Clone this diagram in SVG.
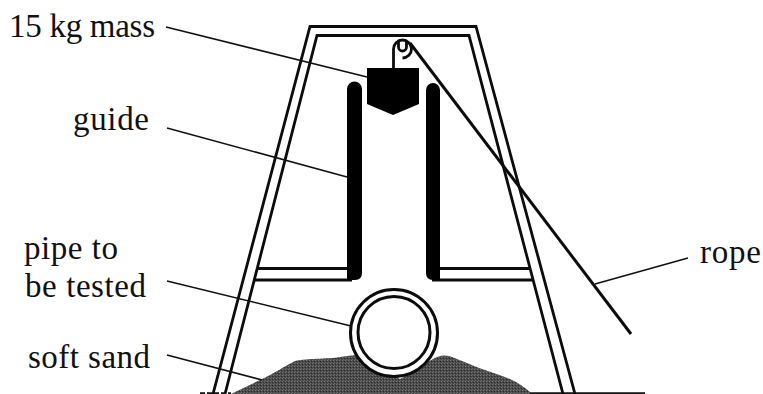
<svg xmlns="http://www.w3.org/2000/svg" width="763" height="394" viewBox="0 0 763 394">
<style>
text{font-family:"Liberation Serif","Times New Roman",serif;font-size:33px;fill:#111}
.l{fill:none;stroke:#111;stroke-width:1.600}
.f{fill:none;stroke:#0c0c0c;stroke-width:2.800}
</style>
<defs><pattern id="sand" width="3" height="3" patternUnits="userSpaceOnUse"><rect width="3" height="3" fill="#4a4a4a"/><rect width="1" height="1" fill="#777"/><rect x="2" y="1" width="1" height="1" fill="#2a2a2a"/><rect x="1" y="2" width="1" height="1" fill="#666"/></pattern></defs>
<rect width="763" height="394" fill="#fff"/>
<g id="sand-heap"><path d="M231 394L262 379C275 373 283 367 293 362C298 359 315 359 333 358C340 357 345 356 356 355L400 379L433 359C440 355 444 355 449 356C455 358 460 360 467 363C480 369 495 373 510 379C520 384 526 388 532 394Z" fill="url(#sand)"/></g>
<g id="frame">
<path class="f" d="M213 394L310 26.500H476L575 394"/>
<path class="f" d="M225 394L317 35.500H469L563 394"/>
<path class="f" d="M257 268.500H349M254 280H352M440 268.500H530M432 280H533"/>
</g>
<g id="guides">
<path d="M347 90a7.500 7.500 0 0 1 15 0V274q0 7-7 7h-8z" fill="#000" transform="translate(0 -1)"/>
<path d="M426 90a7 7 0 0 1 14 0V280h-7q-7 0-7-7z" fill="#000"/>
</g>
<g id="mass"><path d="M367 68H419V104L393 115L367 104Z" fill="#000"/></g>
<g id="pulley">
<path d="M393.500 68V49a9 9 0 1 1 9 9" fill="none" stroke="#0c0c0c" stroke-width="2.800"/>
<path d="M398.500 41V47a4 4 0 0 0 8 0V41" fill="none" stroke="#0c0c0c" stroke-width="2.800"/>
</g>
<g id="pipe">
<circle cx="394" cy="333" r="43.500" fill="#fff" stroke="#0c0c0c" stroke-width="3"/>
<circle cx="394" cy="332.500" r="36" fill="#fff" stroke="#0c0c0c" stroke-width="3"/>
</g>
<g id="connectors">
<path class="l" d="M166 27L367 77M167 128L347 177M167 281L351 326M167 355L262 380M688 258L595 284"/>
<path d="M410 43L631 334" fill="none" stroke="#0c0c0c" stroke-width="3"/>
<path d="M530 393.200H645" fill="none" stroke="#111" stroke-width="1.800"/>
<path d="M200 393.200H231" fill="none" stroke="#111" stroke-width="1.800" stroke-dasharray="5 2"/>
</g>
<g id="labels">
<text x="9" y="37" textLength="146">15 kg mass</text>
<text x="73" y="130" textLength="76">guide</text>
<text x="24" y="259" textLength="94">pipe to</text>
<text x="25" y="297" textLength="121">be tested</text>
<text x="28" y="368" textLength="122">soft sand</text>
<text x="700" y="263" textLength="61">rope</text>
</g>
</svg>
